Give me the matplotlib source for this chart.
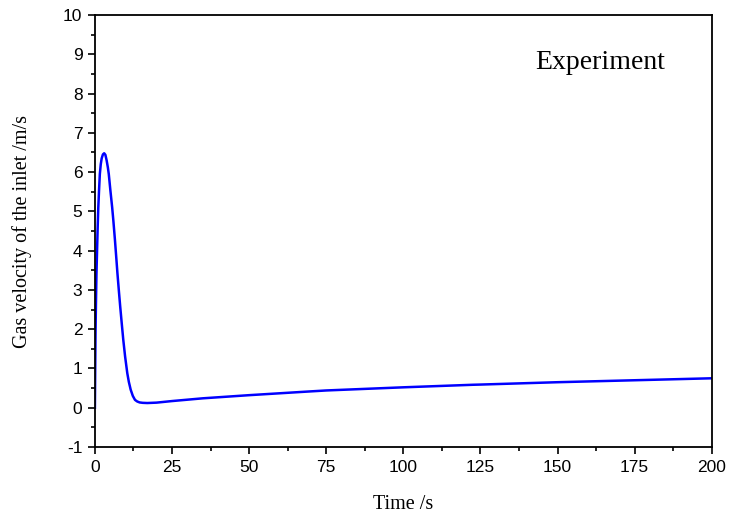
import matplotlib
matplotlib.use("Agg")
import matplotlib.pyplot as plt
from matplotlib.ticker import MultipleLocator

time_s = [0, 0.1, 0.2, 0.35, 0.5, 0.7, 0.9, 1.1, 1.35, 1.6, 1.9, 2.2, 2.6, 3.0, 3.4,
          3.8, 4.2, 4.5, 5.0, 5.6, 6.0, 6.5, 7.0, 7.3, 7.8, 8.2, 8.7, 9.2, 9.8, 10.5,
          11.0, 11.6, 12.3, 13.0, 13.7, 14.5, 15.5, 17.0, 20.0, 25, 35, 50, 68.6, 75,
          100, 122.6, 125, 150, 180, 200]
velocity = [0, 1.0, 1.9, 2.7, 3.4, 4.0, 4.6, 5.1, 5.55, 5.95, 6.2, 6.35, 6.45, 6.48, 6.44,
            6.3, 6.12, 5.95, 5.55, 5.1, 4.75, 4.27, 3.75, 3.43, 2.95, 2.58, 2.15, 1.73, 1.3, 0.88,
            0.66, 0.46, 0.3, 0.2, 0.16, 0.135, 0.125, 0.12, 0.13, 0.17, 0.24, 0.32, 0.41, 0.44,
            0.52, 0.585, 0.59, 0.65, 0.71, 0.75]

plt.rcParams["axes.unicode_minus"] = False

fig = plt.figure(figsize=(7.3, 5.16), dpi=100)
ax = fig.add_axes([0.130, 0.1337, 0.845, 0.8372])

ax.plot(time_s, velocity, color="#0000ff", lw=1.8, solid_joinstyle="round")

ax.set_xlim(0, 200)
ax.set_ylim(-1, 10)
ax.xaxis.set_major_locator(MultipleLocator(25))
ax.xaxis.set_minor_locator(MultipleLocator(12.5))
ax.yaxis.set_major_locator(MultipleLocator(1))
ax.yaxis.set_minor_locator(MultipleLocator(0.5))

ax.tick_params(which="major", direction="out", length=5, width=1.2,
               labelsize=12.5, top=False, right=False, pad=4)
ax.tick_params(which="minor", direction="out", length=3, width=1.2, top=False, right=False)
for lab in ax.get_xticklabels() + ax.get_yticklabels():
    lab.set_fontfamily("Liberation Sans")
for s in ax.spines.values():
    s.set_linewidth(1.3)

ax.set_xlabel("Time /s", fontfamily="Liberation Serif", fontsize=14.5, labelpad=15)
ax.set_ylabel("Gas velocity of the inlet /m/s", fontfamily="Liberation Serif",
              fontsize=14.5, labelpad=22)

ax.text(0.924, 0.889, "Experiment", transform=ax.transAxes, ha="right", va="center",
        fontfamily="Liberation Serif", fontsize=20)

fig.savefig("out.png", dpi=100)
